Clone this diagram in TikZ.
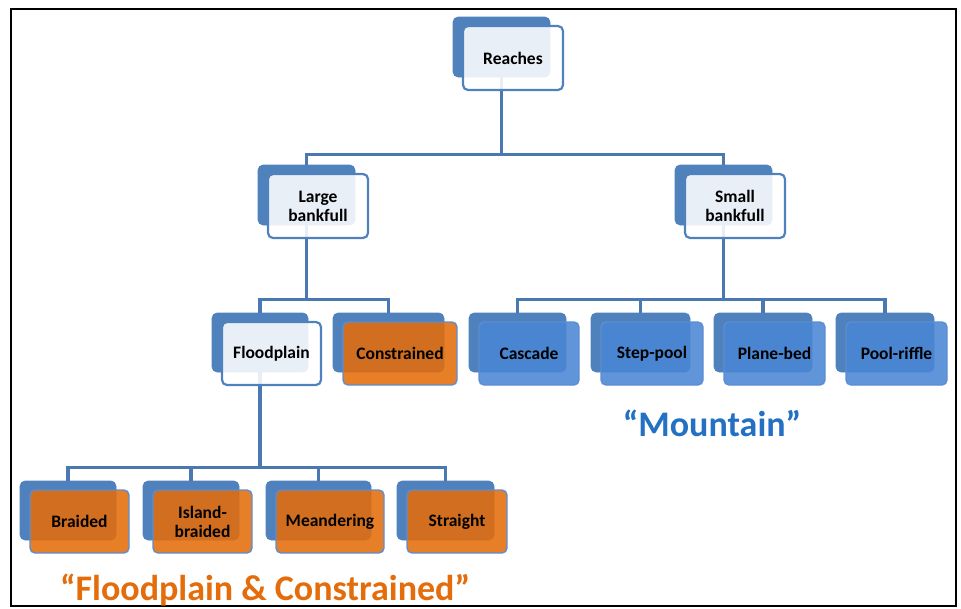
\documentclass[tikz,border=0pt]{standalone}
\usepackage{fontspec}
\setmainfont{Carlito}
\usetikzlibrary{fit}
\pgfdeclarelayer{bg}
\pgfsetlayers{bg,main}
\definecolor{backblue}{HTML}{4F81BD}
\definecolor{linkblue}{HTML}{4A78B2}
\definecolor{frontblue}{HTML}{4A86D4}
\definecolor{frontorange}{HTML}{E46C0A}
\definecolor{edgeblue}{HTML}{5B8ED2}
\definecolor{mtnblue}{HTML}{2470C2}
\definecolor{fptext}{HTML}{E46C0A}
\tikzset{
  backbox/.style={rectangle, rounded corners=5pt, fill=backblue, draw=backblue, line width=0.6pt, inner sep=0pt},
  whitebox/.style={rectangle, rounded corners=5pt, fill=white, fill opacity=0.88, text opacity=1, draw=backblue, line width=2.2pt, inner sep=0pt, font=\bfseries\fontsize{17.5}{19}\selectfont, align=center},
  orangebox/.style={whitebox, fill=frontorange, draw=edgeblue, line width=1.4pt},
  bluebox/.style={whitebox, fill=frontblue, draw=edgeblue, line width=1.4pt},
  conn/.style={draw=linkblue, line width=3.2pt},
  caption/.style={font=\bfseries\fontsize{36}{42}\selectfont, inner sep=0pt}
}
% name, back x1, y1, x2, y2, front style, text
\newcommand{\tbox}[7]{%
  \node[backbox, fit={(#2,#3)(#4,#5)}] (#1-b) {};
  \node[#6, minimum width={#4-#2+3}, minimum height={#5-#3+4}] (#1) at ({(#2+#4)/2+11.5},{(#3+#5)/2+11}) {#7};
}
\newcommand{\tedge}[3]{%
  \draw[conn] (#1-b.south) |- ([yshift=#3pt]#2-b.north) -- (#2-b.north);
}
\begin{document}
\begin{tikzpicture}[x=1pt,y=-1pt]
\useasboundingbox (0,0) rectangle (961,608);
\node[draw=black, line width=2pt, inner sep=0pt, fit={(11,9)(956,606)}] (frame) {};

\tbox{reaches}{453}{17}{550}{77}{whitebox}{Reaches}
\tbox{large}{258}{165}{355}{225}{whitebox}{Large\\bankfull}
\tbox{small}{675}{165}{772}{225}{whitebox}{Small\\bankfull}
\tbox{flood}{212}{313}{308}{372}{whitebox}{Floodplain}
\tbox{constr}{333}{313}{444}{372}{orangebox}{Constrained}
\tbox{cascade}{469}{313}{566}{372}{bluebox}{Cascade}
\tbox{step}{591}{313}{690}{372}{bluebox}{Step-pool}
\tbox{plane}{714}{313}{812}{372}{bluebox}{Plane-bed}
\tbox{pool}{836}{313}{934}{372}{bluebox}{Pool-riffle}
\tbox{braided}{20}{481}{116}{540}{orangebox}{Braided}
\tbox{island}{143}{481}{239}{540}{orangebox}{Island-\\braided}
\tbox{meander}{266}{481}{371}{540}{orangebox}{Meandering}
\tbox{straight}{397}{481}{494}{540}{orangebox}{Straight}

\begin{pgfonlayer}{bg}
\tedge{reaches}{large}{10}
\tedge{reaches}{small}{10}
\tedge{large}{flood}{13}
\tedge{large}{constr}{13}
\tedge{small}{cascade}{13}
\tedge{small}{step}{13}
\tedge{small}{plane}{13}
\tedge{small}{pool}{13}
\tedge{flood}{braided}{13}
\tedge{flood}{island}{13}
\tedge{flood}{meander}{13}
\tedge{flood}{straight}{13}
\end{pgfonlayer}

\node[caption, text=mtnblue] (mtn) at (712,423) {“Mountain”};
\node[caption, text=fptext] (fpc) at (265,590) {“Floodplain \& Constrained”};
\end{tikzpicture}
\end{document}
